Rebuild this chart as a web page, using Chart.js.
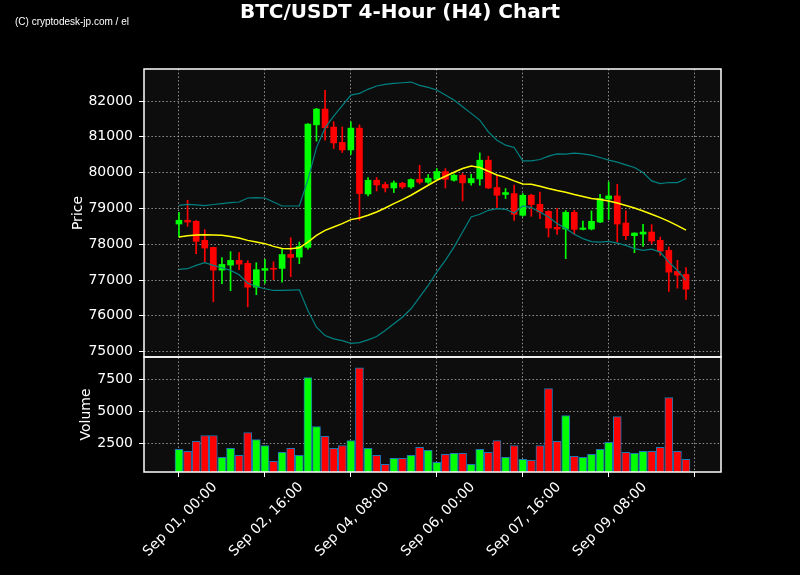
<!DOCTYPE html>
<html>
<head>
<meta charset="utf-8">
<script src="https://cdn.jsdelivr.net/npm/chart.js@4/dist/chart.umd.min.js"></script>
<style>
  html, body { margin: 0; padding: 0; background: #000; }
  #wrap { position: relative; width: 800px; height: 575px; }
</style>
</head>
<body>
<div id="wrap"><canvas id="chart" width="800" height="575"></canvas></div>
<script>
// BTC/USDT, 4-hour candles, Sep 01 00:00 -> Sep 10 20:00 (index 0..59)
const tickLabels = ['Sep 01, 00:00', 'Sep 02, 16:00', 'Sep 04, 08:00', 'Sep 06, 00:00', 'Sep 07, 16:00', 'Sep 09, 08:00', ''];
const tickIndex = [0, 10, 20, 30, 40, 50, 60];
const priceTicks = [75000, 76000, 77000, 78000, 79000, 80000, 81000, 82000];
const volumeTicks = [2500, 5000, 7500];

const opens = [78565, 78670, 78640, 78108, 77912, 77277, 77416, 77548, 77464, 76800,
  77270, 77330, 77324, 77716, 77640, 77912, 81336, 81776, 81272, 80844,
  80636, 81244, 79404, 79788, 79668, 79572, 79704, 79600, 79816, 79732,
  79816, 80030, 79788, 79928, 79716, 79824, 80348, 79584, 79390, 79416,
  78808, 79368, 79116, 78920, 78472, 78424, 78892, 78416, 78424, 78620,
  79264, 79350, 78592, 78240, 78284, 78340, 78108, 77828, 77240, 77156];
const highs = [78890, 79230, 78660, 78408, 77920, 77624, 77792, 77764, 77540, 77484,
  77576, 77512, 77876, 78184, 78060, 81370, 81796, 82300, 81420, 81280,
  81420, 81336, 79864, 79864, 79732, 79768, 79732, 79830, 80208, 79948,
  80116, 80116, 79970, 79976, 79960, 80552, 80460, 79928, 79556, 79650,
  79416, 79396, 79460, 78940, 78996, 78940, 78948, 78650, 78930, 79396,
  79740, 79676, 78930, 78320, 78556, 78548, 78200, 77920, 77548, 77344];
const lows = [78200, 78500, 77736, 77500, 76392, 76896, 76700, 77288, 76250, 76590,
  76912, 77008, 76940, 77092, 77456, 77864, 80880, 80908, 80676, 80564,
  80508, 78668, 79348, 79488, 79460, 79444, 79556, 79556, 79684, 79700,
  79800, 79572, 79760, 79210, 79650, 79648, 79556, 78996, 79276, 78668,
  78780, 78780, 78716, 78200, 78276, 77596, 78276, 78400, 78400, 78600,
  78690, 78060, 78130, 77764, 77940, 78016, 77688, 76680, 76772, 76456];
const closes = [78670, 78620, 78080, 77892, 77277, 77436, 77548, 77444, 76800, 77288,
  77320, 77300, 77712, 77632, 77940, 81356, 81776, 81252, 80832, 80636,
  81244, 79416, 79788, 79656, 79572, 79712, 79600, 79808, 79732, 79844,
  80032, 79816, 79928, 79716, 79836, 80348, 79572, 79368, 79444, 78836,
  79368, 79108, 78900, 78452, 78424, 78892, 78416, 78452, 78640, 79276,
  79350, 78564, 78240, 78312, 78340, 78090, 77808, 77220, 77136, 76744];
const volumes = [2030, 1880, 2660, 3120, 3120, 1410, 2110, 1560, 3360, 2810,
  2340, 1090, 1800, 2110, 1560, 7660, 3830, 3050, 2110, 2340,
  2730, 8440, 2110, 1560, 860, 1330, 1330, 1560, 2190, 1950,
  1020, 1640, 1720, 1720, 860, 2030, 1800, 2730, 1410, 2340,
  1250, 1170, 2340, 6800, 2660, 4690, 1480, 1410, 1640, 2030,
  2580, 4610, 1800, 1720, 1880, 1880, 2190, 6090, 1880, 1250];
// 20-period SMA and Bollinger bands
const sma = [78200, 78240, 78260, 78268, 78260, 78248, 78215, 78176, 78108, 78060,
  78016, 77940, 77884, 77876, 77900, 78060, 78248, 78388, 78480, 78576,
  78688, 78732, 78808, 78900, 79012, 79136, 79248, 79368, 79508, 79648,
  79788, 79900, 80012, 80116, 80188, 80144, 80040, 79936, 79864, 79770,
  79684, 79676, 79620, 79556, 79500, 79452, 79388, 79332, 79276, 79248,
  79208, 79152, 79080, 79012, 78930, 78836, 78744, 78640, 78520, 78396];
const upperBand = [79088, 79116, 79100, 79080, 79110, 79136, 79160, 79180, 79292, 79300,
  79292, 79180, 79068, 79068, 79068, 79800, 80700, 81250, 81580, 81870,
  82168, 82216, 82328, 82420, 82468, 82496, 82512, 82532, 82440, 82384,
  82308, 82168, 82028, 81840, 81656, 81468, 81140, 80908, 80768, 80704,
  80330, 80330, 80368, 80460, 80524, 80516, 80544, 80524, 80488, 80424,
  80348, 80292, 80216, 80144, 80004, 79770, 79696, 79724, 79724, 79836];
const lowerBand = [77296, 77316, 77408, 77484, 77408, 77344, 77268, 77148, 76912, 76820,
  76756, 76708, 76708, 76716, 76728, 76148, 75680, 75448, 75356, 75308,
  75232, 75252, 75328, 75420, 75588, 75776, 75960, 76196, 76520, 76848,
  77220, 77548, 77920, 78340, 78760, 78836, 78948, 78996, 78976, 78872,
  79068, 79024, 78900, 78760, 78576, 78436, 78276, 78156, 78072, 78060,
  78080, 78032, 77968, 77876, 77828, 77864, 77780, 77500, 77268, 76988];

const GREEN = '#00ff00';
const RED = '#ff0000';
const colors = closes.map((c, i) => (c >= opens[i] ? GREEN : RED));
const gridColor = 'rgba(190,190,190,0.75)';

// axis limits like mplfinance (5% margins on price, 0.3*min / 1.1*max on volume)
const priceMin = 74849, priceMax = 82896;
const volMin = 0.3 * Math.min(...volumes);
const volMax = 1.1 * Math.max(...volumes);

Chart.defaults.font.family = 'DejaVu Sans';
Chart.defaults.color = '#ffffff';

const pt = arr => arr.map((v, i) => ({ x: i, y: v }));

// frames, background, title and axis labels
const decor = {
  id: 'decor',
  beforeDraw(chart) {
    const { ctx, chartArea: ca } = chart;
    const ys = chart.scales.y, yv = chart.scales.yv;
    ctx.save();
    ctx.fillStyle = '#000';
    ctx.fillRect(0, 0, chart.width, chart.height);
    ctx.fillStyle = '#0d0d0d';
    ctx.fillRect(ca.left, ys.top, ca.right - ca.left, ys.bottom - ys.top);
    ctx.fillRect(ca.left, yv.top, ca.right - ca.left, yv.bottom - yv.top);
    ctx.restore();
  },
  afterDraw(chart) {
    const { ctx, chartArea: ca } = chart;
    const ys = chart.scales.y, yv = chart.scales.yv;
    ctx.save();
    ctx.strokeStyle = '#ffffff';
    ctx.lineWidth = 1.5;
    ctx.strokeRect(ca.left, ys.top, ca.right - ca.left, ys.bottom - ys.top);
    ctx.strokeRect(ca.left, yv.top, ca.right - ca.left, yv.bottom - yv.top);

    ctx.fillStyle = '#ffffff';
    ctx.textAlign = 'center';
    ctx.textBaseline = 'alphabetic';
    ctx.font = 'bold 20px "DejaVu Sans"';
    ctx.fillText('BTC/USDT 4-Hour (H4) Chart', 400, 18);

    ctx.textAlign = 'left';
    ctx.font = '10px "Liberation Sans"';
    ctx.fillText('(C) cryptodesk-jp.com / el', 15, 25);

    ctx.font = '14px "DejaVu Sans"';
    ctx.textAlign = 'center';
    ctx.textBaseline = 'middle';
    ctx.translate(78, (ys.top + ys.bottom) / 2);
    ctx.rotate(-Math.PI / 2);
    ctx.fillText('Price', 0, 0);
    ctx.setTransform(1, 0, 0, 1, 0, 0);
    ctx.translate(86, (yv.top + yv.bottom) / 2);
    ctx.rotate(-Math.PI / 2);
    ctx.fillText('Volume', 0, 0);
    ctx.restore();
  }
};

const yAxisCommon = {
  type: 'linear',
  position: 'left',
  stack: 'panes',
  afterFit: s => { s.width = 144; },
  ticks: { color: '#ffffff', font: { size: 14 }, padding: 6, callback: v => String(v) },
  grid: { color: gridColor, tickColor: '#ffffff', tickLength: 5, lineWidth: 1 },
  border: { display: false, dash: [1.5, 2.2] }
};

new Chart(document.getElementById('chart'), {
  type: 'bar',
  data: {
    datasets: [
      { type: 'line', label: 'SMA', data: pt(sma), yAxisID: 'y', borderColor: '#ffff00', borderWidth: 1.5, pointRadius: 0, order: 0 },
      { type: 'line', label: 'Upper', data: pt(upperBand), yAxisID: 'y', borderColor: '#008080', borderWidth: 1.2, pointRadius: 0, order: 1 },
      { type: 'line', label: 'Lower', data: pt(lowerBand), yAxisID: 'y', borderColor: '#008080', borderWidth: 1.2, pointRadius: 0, order: 1 },
      { label: 'Wick', data: lows.map((l, i) => ({ x: i, y: [l, highs[i]] })), yAxisID: 'y', backgroundColor: colors, barThickness: 1, grouped: false, order: 3 },
      { label: 'Body', data: opens.map((o, i) => ({ x: i, y: [o, closes[i]] })), yAxisID: 'y', backgroundColor: colors, barThickness: 6, minBarLength: 1, grouped: false, order: 2 },
      { label: 'Volume', data: pt(volumes), yAxisID: 'yv', backgroundColor: colors, borderColor: '#1f77b4', borderWidth: 1, barThickness: 8, base: volMin, grouped: false, order: 4 }
    ]
  },
  options: {
    responsive: false,
    animation: false,
    layout: { padding: { left: 0, right: 79, top: 69, bottom: 0 } },
    plugins: { legend: { display: false }, tooltip: { enabled: false }, title: { display: false } },
    scales: {
      x: {
        type: 'linear',
        min: -4.07,
        max: 63.07,
        offset: false,
        afterFit: s => { s.height = 103; },
        afterBuildTicks: s => { s.ticks = tickIndex.map(v => ({ value: v })); },
        ticks: {
          color: '#ffffff', font: { size: 14 }, autoSkip: false,
          maxRotation: 45, minRotation: 45, padding: 2, labelOffset: 36,
          callback: (v, idx) => tickLabels[idx]
        },
        grid: { color: gridColor, tickColor: '#ffffff', tickLength: 5, offset: false },
        border: { display: false, dash: [1.5, 2.2] }
      },
      y: Object.assign({}, yAxisCommon, {
        min: priceMin, max: priceMax, stackWeight: 288, weight: 1,
        afterBuildTicks: s => { s.ticks = priceTicks.map(v => ({ value: v })); }
      }),
      yv: Object.assign({}, yAxisCommon, {
        min: volMin, max: volMax, stackWeight: 115, weight: 0,
        afterBuildTicks: s => { s.ticks = volumeTicks.map(v => ({ value: v })); }
      })
    }
  },
  plugins: [decor]
});
</script>
</body>
</html>
